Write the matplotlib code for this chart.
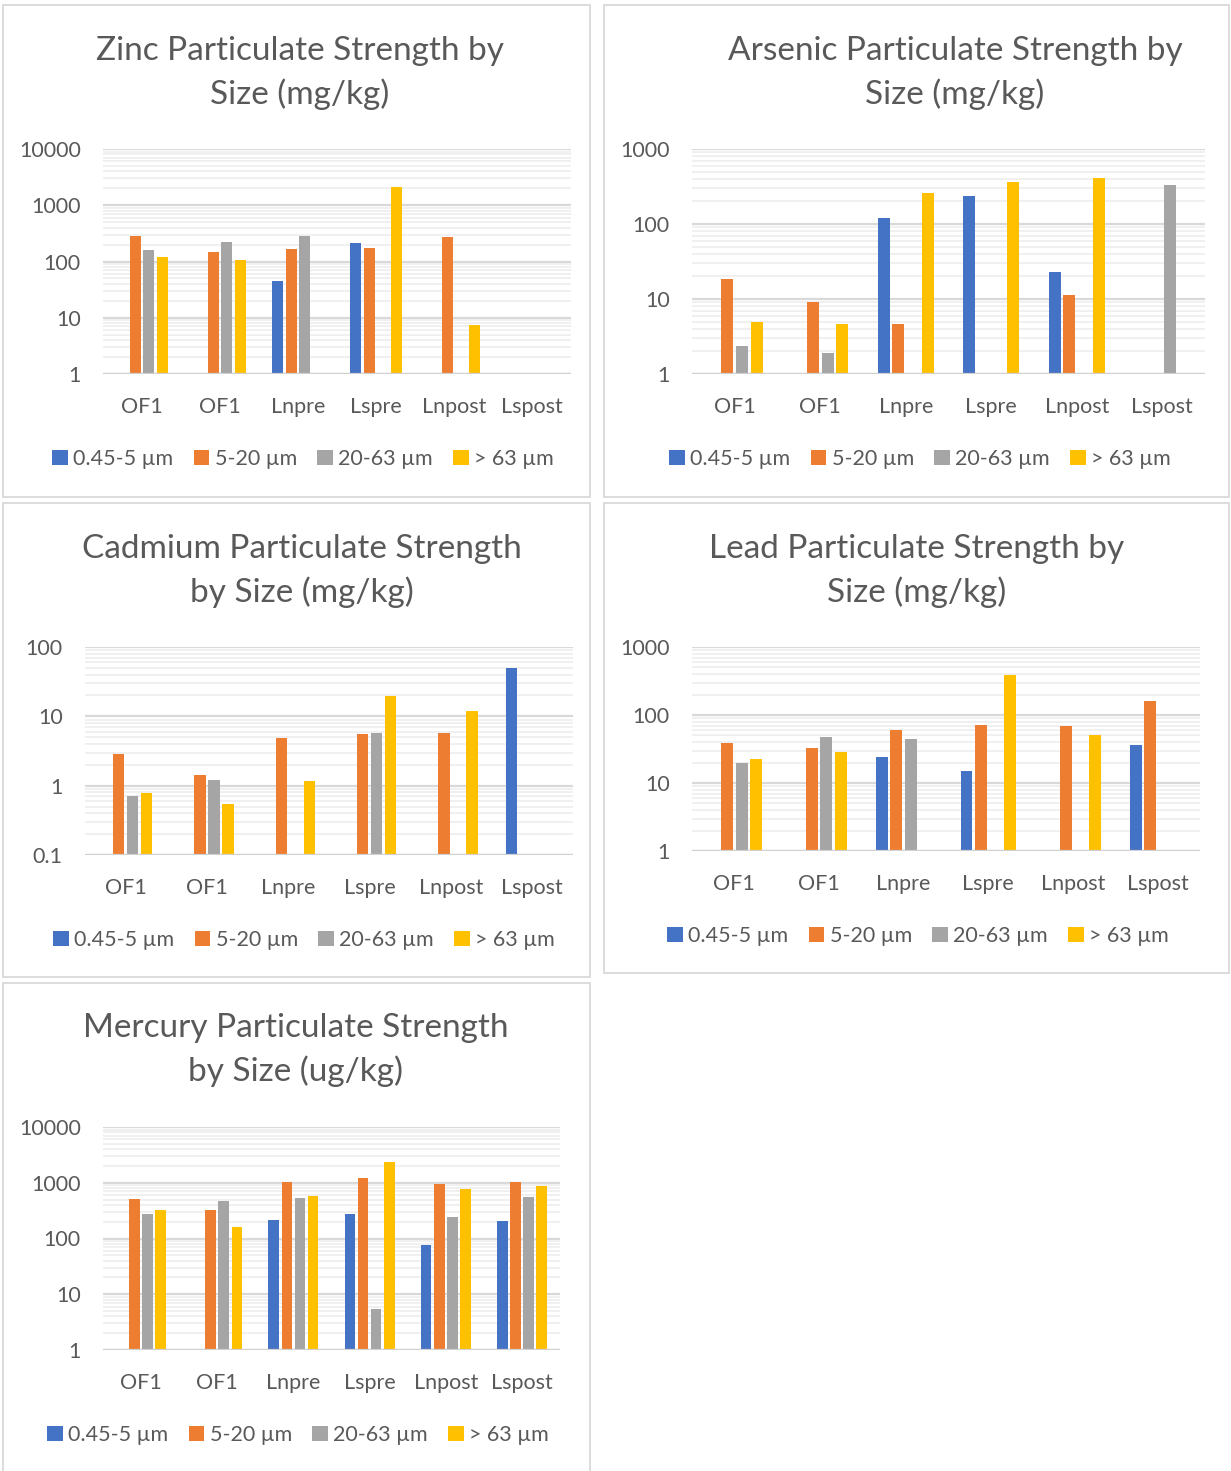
import numpy as np
import matplotlib
matplotlib.use("Agg")
import matplotlib.pyplot as plt
from matplotlib.patches import Rectangle, Patch
from matplotlib.ticker import LogLocator, FixedLocator, FixedFormatter, NullFormatter

plt.rcParams['font.family'] = ['Lato', 'DejaVu Sans']

# ---- data -------------------------------------------------------------
sites = ["OF1", "OF1", "Lnpre", "Lspre", "Lnpost", "Lspost"]
size_classes = ["0.45-5 µm", "5-20 µm", "20-63 µm", "> 63 µm"]
colors = ["#4472C4", "#ED7D31", "#A5A5A5", "#FFC000"]
N = None

zinc_045_5 = [N, N, 45, 210, N, N]
zinc_5_20 = [288, 148, 167, 177, 274, N]
zinc_20_63 = [159, 219, 288, N, N, N]
zinc_63 = [121, 105, N, 2150, 7.5, N]

arsenic_045_5 = [N, N, 122, 235, 23, N]
arsenic_5_20 = [18.6, 9.2, 4.66, N, 11.3, N]
arsenic_20_63 = [2.38, 1.88, N, N, N, 336]
arsenic_63 = [4.95, 4.66, 257, 360, 406, N]

cadmium_045_5 = [N, N, N, N, N, 49]
cadmium_5_20 = [2.86, 1.44, 4.82, 5.56, 5.75, N]
cadmium_20_63 = [0.71, 1.21, N, 5.81, N, N]
cadmium_63 = [0.775, 0.538, 1.155, 19.9, 11.8, N]

lead_045_5 = [N, N, 24.2, 15.2, N, 36.8]
lead_5_20 = [38.5, 32.5, 61.2, 71.8, 69.3, 158]
lead_20_63 = [20, 46.7, 45.1, N, N, N]
lead_63 = [22.4, 28.7, N, 382, 51.1, N]

mercury_045_5 = [N, N, 213, 273, 75, 207]
mercury_5_20 = [520, 322, 1050, 1205, 940, 1021]
mercury_20_63 = [273, 480, 528, 5.35, 248, 565]
mercury_63 = [322, 164, 581, 2360, 787, 890]

zinc_ticks = ["1", "10", "100", "1000", "10000"]
arsenic_ticks = ["1", "10", "100", "1000"]
cadmium_ticks = ["0.1", "1", "10", "100"]
lead_ticks = ["1", "10", "100", "1000"]
mercury_ticks = ["1", "10", "100", "1000", "10000"]

# ---- layout -----------------------------------------------------------
W, H = 1231, 1471
DPI = 100
TEXT = "#595959"
fig = plt.figure(figsize=(W / DPI, H / DPI), dpi=DPI)
fig.patch.set_facecolor("white")


def fx(x):
    return x / W


def fy(y):
    return 1 - y / H


def panel_box(x0, y0, x1, y1):
    fig.patches.append(Rectangle((fx(x0), fy(y1)), fx(x1 - x0), (y1 - y0) / H,
                                 transform=fig.transFigure, facecolor="none",
                                 edgecolor="#d9d9d9", linewidth=1.3, zorder=-5))


def chart(box, plot, title_lines, title_xy, legend_xy, series, ticks):
    panel_box(*box)
    x0, y0, x1, y1 = plot
    ax = fig.add_axes([fx(x0), fy(y1), fx(x1 - x0), (y1 - y0) / H], zorder=2)
    ax.set_facecolor("none")
    vals = [float(t) for t in ticks]
    lo, hi = vals[0], vals[-1]
    ax.set_yscale("log")
    ax.set_ylim(lo, hi)
    ax.set_xlim(-0.5, len(sites) - 0.5)

    # gridlines: decades darker, intermediate values lighter
    ax.yaxis.set_major_locator(FixedLocator(vals))
    ax.yaxis.set_major_formatter(FixedFormatter(ticks))
    ax.yaxis.set_minor_locator(LogLocator(base=10, subs=np.arange(2, 10)))
    ax.yaxis.set_minor_formatter(NullFormatter())
    ax.grid(True, which="major", axis="y", color="#d9d9d9", linewidth=1.6, zorder=0)
    ax.grid(True, which="minor", axis="y", color="#efefef", linewidth=1.3, zorder=0)
    ax.set_axisbelow(True)

    step, width = 0.172, 0.14
    xs = np.arange(len(sites))
    for k, (vals_k, c) in enumerate(zip(series, colors)):
        for i, v in enumerate(vals_k):
            if v is None:
                continue
            ax.bar(xs[i] + (k - 1.5) * step, v - lo, bottom=lo, width=width,
                   color=c, edgecolor="none", zorder=3)

    for s in ax.spines.values():
        s.set_visible(False)
    ax.axhline(lo, color="#d0d0d0", linewidth=1.6, zorder=4)
    ax.set_xticks(xs)
    ax.set_xticklabels(sites)
    ax.tick_params(axis="both", which="both", length=0, colors=TEXT, labelsize=15.5)
    ax.tick_params(axis="y", pad=16)
    ax.tick_params(axis="x", pad=16.5)

    tx, ty = title_xy
    fig.text(fx(tx), fy(ty), title_lines, ha="center", va="center", fontsize=24,
             color=TEXT, linespacing=1.5)

    handles = [Patch(facecolor=c, edgecolor="none") for c in colors]
    lx, ly = legend_xy
    fig.legend(handles, size_classes, loc="center", bbox_to_anchor=(fx(lx), fy(ly)),
               ncol=4, frameon=False, fontsize=15.5, labelcolor=TEXT,
               handlelength=0.72, handleheight=0.72, handletextpad=0.25,
               columnspacing=0.95, borderpad=0)
    return ax


chart((3, 5, 590, 497), (103, 149, 571, 374),
      "Zinc Particulate Strength by\nSize (mg/kg)", (300, 73), (303, 459),
      [zinc_045_5, zinc_5_20, zinc_20_63, zinc_63], zinc_ticks)

chart((604, 5, 1229, 497), (692, 149, 1205, 374),
      "Arsenic Particulate Strength by\nSize (mg/kg)", (955, 73), (920, 459),
      [arsenic_045_5, arsenic_5_20, arsenic_20_63, arsenic_63], arsenic_ticks)

chart((3, 503, 590, 977), (85, 647, 573, 855),
      "Cadmium Particulate Strength\nby Size (mg/kg)", (302, 571), (304, 940),
      [cadmium_045_5, cadmium_5_20, cadmium_20_63, cadmium_63], cadmium_ticks)

chart((604, 503, 1229, 973), (692, 647, 1200, 851),
      "Lead Particulate Strength by\nSize (mg/kg)", (917, 571), (918, 936),
      [lead_045_5, lead_5_20, lead_20_63, lead_63], lead_ticks)

chart((3, 983, 590, 1475), (103, 1127, 560, 1350),
      "Mercury Particulate Strength\nby Size (ug/kg)", (296, 1050), (298, 1435),
      [mercury_045_5, mercury_5_20, mercury_20_63, mercury_63], mercury_ticks)

fig.savefig("out.png", dpi=DPI, facecolor="white")
